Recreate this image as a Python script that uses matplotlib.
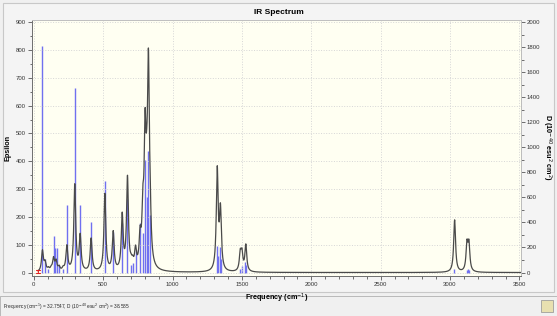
import numpy as np
import matplotlib
matplotlib.use('Agg')
import matplotlib.pyplot as plt
from matplotlib.patches import Rectangle
from matplotlib.ticker import MultipleLocator

plt.rcParams['font.family'] = ['Liberation Sans', 'DejaVu Sans']

# broadened spectrum: peak positions (cm-1) and heights (epsilon)
peak_freq = [62, 81, 105, 125, 142, 160, 182, 211, 238, 295, 334, 413, 512, 572,
             637, 675, 700, 712, 733, 766, 786, 802, 814, 826, 838,
             1322, 1345, 1488, 1500, 1528, 3033, 3122, 3136]
peak_eps = [75, 30, 10, 10, 45, 35, 15, 10, 90, 310, 125, 118, 278, 138,
            195, 330, 15, 20, 65, 100, 170, 430, 150, 670, 120,
            360, 210, 62, 60, 95, 188, 95, 95]
hwhm = 8.0

# stick spectrum: frequency (cm-1) and dipole strength D
stick_freq = [62, 81, 100, 142, 156, 166, 182, 211, 238, 295, 334, 413, 512, 572,
              637, 675, 700, 712, 738, 766, 786, 802, 814, 826, 838,
              1319, 1324, 1340, 1350, 1485, 1500, 1525, 1530, 3030, 3120, 3130, 3136]
stick_D = [1813, 110, 25, 293, 195, 195, 60, 30, 538, 1473, 538, 402, 732, 325,
           394, 589, 60, 80, 181, 394, 317, 900, 607, 972, 461,
           208, 130, 200, 110, 30, 50, 88, 60, 25, 20, 25, 20]

cursor_freq = 32.7547
cursor_D = 38.585

fig = plt.figure(figsize=(5.57, 3.16), dpi=100)
fig.patch.set_facecolor('#f0f0f0')
# window frame + status bar
for r in [Rectangle((0.005, 0.075), 0.99, 0.915, facecolor='#f4f4f4', edgecolor='#c8c8c8', lw=0.8),
          Rectangle((0.0, 0.0), 1.0, 0.062, facecolor='#f0f0f0', edgecolor='#b0b0b0', lw=0.6),
          Rectangle((0.972, 0.012), 0.02, 0.04, facecolor='#e8e0b0', edgecolor='#909090', lw=0.5)]:
    r.set_transform(fig.transFigure)
    r.set_zorder(-10)
    fig.add_artist(r)

ax = fig.add_axes([0.057, 0.127, 0.878, 0.81])
ax2 = ax.twinx()
ax.set_zorder(ax2.get_zorder() + 1)
ax.patch.set_visible(False)
ax2.patch.set_visible(True)
ax2.set_facecolor('#fffff2')

ax2.vlines(stick_freq, 0, stick_D, color='#7070f0', lw=1.0)

x = np.linspace(30, 3510, 7000)
y = np.zeros_like(x)
for f0, a in zip(peak_freq, peak_eps):
    y += a * hwhm**2 / ((x - f0)**2 + hwhm**2)
ax.plot(x, y, color='#4a4a4a', lw=0.9)

ax.annotate('', xy=(cursor_freq, 0), xytext=(cursor_freq, cursor_D * 900 / 2000),
            arrowprops=dict(arrowstyle='|-|', color='#e02020', lw=0.8,
                            mutation_scale=1.5))

ax.set_xlim(-15, 3510)
ax.set_ylim(-12, 908)
ax2.set_ylim(-12 * 2000 / 900, 908 * 2000 / 900)

ax.xaxis.set_major_locator(MultipleLocator(500))
ax.xaxis.set_minor_locator(MultipleLocator(100))
ax.yaxis.set_major_locator(MultipleLocator(100))
ax.yaxis.set_minor_locator(MultipleLocator(50))
ax2.yaxis.set_major_locator(MultipleLocator(200))
ax2.yaxis.set_minor_locator(MultipleLocator(100))

ax.grid(True, which='major', color='#d6d6d6', ls=':', lw=0.7)

for a in (ax, ax2):
    for s in a.spines.values():
        s.set_color('#c0c0c0')
        s.set_linewidth(0.7)
    a.tick_params(which='both', direction='out', colors='#555555',
                  labelsize=4.3, width=0.6, pad=1.5)
    a.tick_params(which='major', length=3)
    a.tick_params(which='minor', length=1.8)
for s in ('left', 'bottom'):
    ax.spines[s].set_color('#707070')
ax2.spines['right'].set_color('#707070')
ax.tick_params(labelcolor='#333333')
ax2.tick_params(labelcolor='#333333')

ax.set_xlabel('Frequency (cm$^{-1}$)', fontsize=5.2, fontweight='bold')
ax.xaxis.set_label_coords(0.5, -0.06)
ax.set_ylabel('Epsilon', fontsize=5.2, fontweight='bold')
ax.yaxis.set_label_coords(-0.042, 0.5)
fig.text(547 / 557, 1 - 147 / 316, 'D (10$^{-40}$ esu$^2$ cm$^2$)', fontsize=5.2,
         fontweight='bold', rotation=270, ha='center', va='center')
fig.text(0.5, 0.962, 'IR Spectrum', ha='center', va='center',
         fontsize=6, fontweight='bold')
fig.text(0.006, 0.03, 'Frequency (cm$^{-1}$) = 32.7547, D (10$^{-40}$ esu$^2$ cm$^2$) = 38.585',
         ha='left', va='center', fontsize=3.4, color='#222222')

fig.savefig('out.png', dpi=100, facecolor=fig.get_facecolor())
